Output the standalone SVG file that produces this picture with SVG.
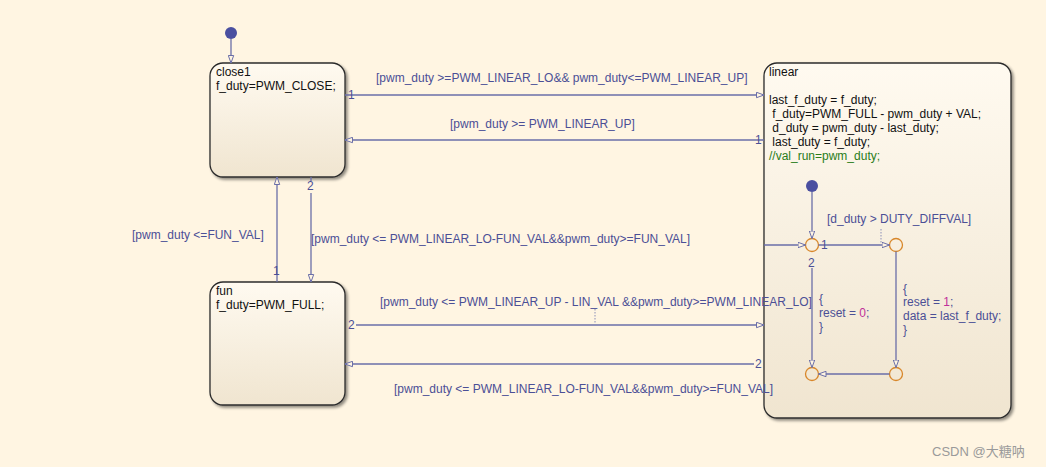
<svg xmlns="http://www.w3.org/2000/svg" width="1046" height="467" viewBox="0 0 1046 467">
<style>
.t{font-family:"Liberation Sans",Arial,sans-serif;font-size:12px;fill:#4b4f96}
.b{font-family:"Liberation Sans",Arial,sans-serif;font-size:12px;fill:#111}
.g{fill:#2a7d1a}
.m{fill:#c0309a}
.st{fill:url(#sg);stroke:#2c2c2c;stroke-width:1.3;filter:url(#sh)}
.ln{stroke:#6a6ea8;stroke-width:1.3;fill:none}
.dl{stroke:#8a8eb8;stroke-width:1;stroke-dasharray:1.5 1.5;fill:none}
.j{fill:none;stroke:#d8872a;stroke-width:1.3}
.dot{fill:#4a4fa0}
.ar{marker-end:url(#a)}
</style>
<defs>
<linearGradient id="sg" x1="0" y1="0" x2="0" y2="1">
<stop offset="0" stop-color="#fffaf0"/>
<stop offset="1" stop-color="#f0e5d0"/>
</linearGradient>
<filter id="sh" x="-10%" y="-10%" width="130%" height="130%">
<feGaussianBlur in="SourceAlpha" stdDeviation="1.8"/>
<feOffset dx="1.5" dy="2" result="o"/>
<feComponentTransfer><feFuncA type="linear" slope="0.45"/></feComponentTransfer>
<feMerge><feMergeNode/><feMergeNode in="SourceGraphic"/></feMerge>
</filter>
<marker id="a" markerWidth="9" markerHeight="7" refX="8" refY="3.5" orient="auto" markerUnits="userSpaceOnUse">
<path d="M0.5,0.8 L8,3.5 L0.5,6.2 z" fill="#fff5e2" stroke="#6a6ea8" stroke-width="1"/>
</marker>
</defs>
<rect width="1046" height="467" fill="#fff5e2"/>

<g id="close1">
<rect class="st" x="210" y="63" width="135" height="114" rx="13"/>
<text class="b" x="216" y="76">close1</text>
<text class="b" x="216" y="90">f_duty=PWM_CLOSE;</text>
</g>
<g id="fun">
<rect class="st" x="210" y="282" width="135" height="123" rx="13"/>
<text class="b" x="216" y="295">fun</text>
<text class="b" x="216" y="309">f_duty=PWM_FULL;</text>
</g>
<g id="linear">
<rect class="st" x="764" y="63" width="247" height="355" rx="13"/>
<text class="b" x="769" y="76">linear</text>
<text class="b" x="769" y="104">last_f_duty = f_duty;</text>
<text class="b" x="769" y="118" xml:space="preserve"> f_duty=PWM_FULL - pwm_duty + VAL;</text>
<text class="b" x="769" y="132" xml:space="preserve"> d_duty = pwm_duty - last_duty;</text>
<text class="b" x="769" y="146" xml:space="preserve"> last_duty = f_duty;</text>
<text class="b g" x="769" y="160">//val_run=pwm_duty;</text>
</g>
<g id="init_top"><circle class="dot" cx="231" cy="33" r="6"/></g>
<g id="init_inner"><circle class="dot" cx="812" cy="186" r="6"/></g>
<g id="j1"><circle class="j" cx="812" cy="245" r="6.5"/></g>
<g id="j2"><circle class="j" cx="896" cy="245" r="6.5"/></g>
<g id="j3"><circle class="j" cx="812" cy="374" r="6.5"/></g>
<g id="j4"><circle class="j" cx="896" cy="374" r="6.5"/></g>

<g id="connectors">
<path class="ln ar" d="M231,39 V63"/>
<path class="ln ar" d="M345,95 H764"/>
<text class="t" x="348" y="99">1</text>
<text class="t" x="376" y="82">[pwm_duty &gt;=PWM_LINEAR_LO&amp;&amp; pwm_duty&lt;=PWM_LINEAR_UP]</text>
<path class="ln ar" d="M764,140 H345"/>
<text class="t" x="755" y="144">1</text>
<text class="t" x="450" y="128">[pwm_duty &gt;= PWM_LINEAR_UP]</text>

<path class="ln" d="M311,177 V181"/>
<path class="ln ar" d="M311,193 V282"/>
<text class="t" x="307" y="190">2</text>
<text class="t" x="311" y="243">[pwm_duty &lt;= PWM_LINEAR_LO-FUN_VAL&amp;&amp;pwm_duty&gt;=FUN_VAL]</text>
<path class="ln ar" d="M277,282 V177"/>
<text class="t" x="273" y="275">1</text>
<text class="t" x="132" y="239">[pwm_duty &lt;=FUN_VAL]</text>

<path class="ln ar" d="M356,325 H764"/>
<text class="t" x="348" y="329">2</text>
<text class="t" x="380" y="306">[pwm_duty &lt;= PWM_LINEAR_UP - LIN_VAL &amp;&amp;pwm_duty&gt;=PWM_LINEAR_LO]</text>
<path class="dl" d="M595,309 V324"/>
<path class="ln ar" d="M754,364 H345"/>
<text class="t" x="755" y="368">2</text>
<text class="t" x="394" y="393">[pwm_duty &lt;= PWM_LINEAR_LO-FUN_VAL&amp;&amp;pwm_duty&gt;=FUN_VAL]</text>

<path class="ln ar" d="M812,192 V238.5"/>
<path class="ln ar" d="M764,245 H805.5"/>
<path class="ln ar" d="M818.5,245 H889.5"/>
<text class="t" x="821" y="249">1</text>
<text class="t" x="827" y="223">[d_duty &gt; DUTY_DIFFVAL]</text>
<path class="dl" d="M881,229 V244"/>
<path class="ln ar" d="M812,268 V367.5"/>
<text class="t" x="808" y="267">2</text>
<text class="t" x="819" y="303">{</text>
<text class="t" x="819" y="317">reset = <tspan class="m">0</tspan>;</text>
<text class="t" x="819" y="331">}</text>
<path class="ln ar" d="M896,251.5 V367.5"/>
<text class="t" x="903" y="293">{</text>
<text class="t" x="903" y="306">reset = <tspan class="m">1</tspan>;</text>
<text class="t" x="903" y="320">data = last_f_duty;</text>
<text class="t" x="903" y="334">}</text>
<path class="ln ar" d="M889.5,374 H818.5"/>
</g>
<text x="932" y="456" style="font-family:'Liberation Sans','Noto Sans CJK SC',sans-serif;font-size:13px;fill:#9a9a9a">CSDN @大糖呐</text>
</svg>
